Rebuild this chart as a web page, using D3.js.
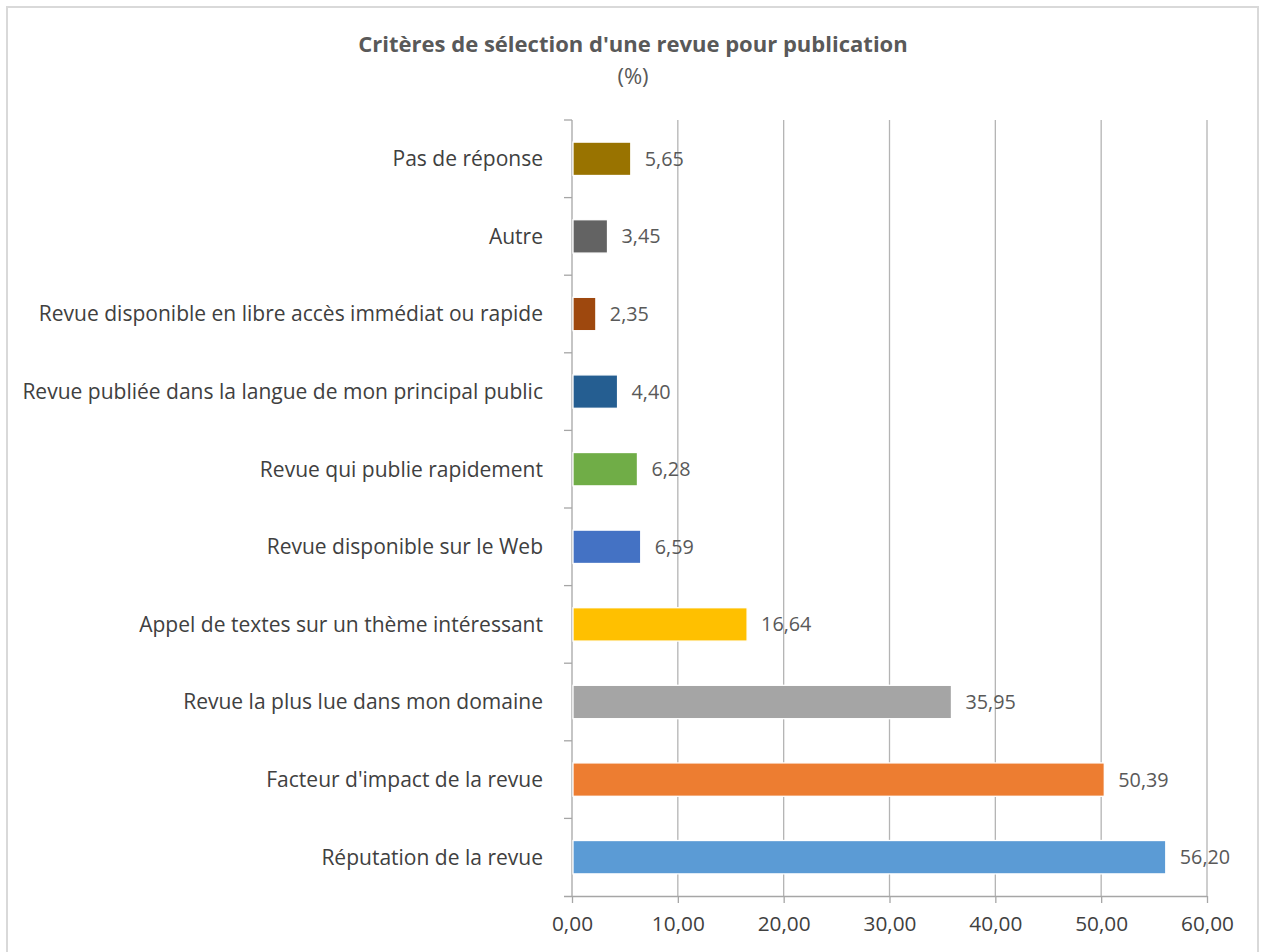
<!DOCTYPE html>
<html><head><meta charset="utf-8">
<script src="https://cdn.jsdelivr.net/npm/d3@7"></script>
<style>html,body{margin:0;padding:0;background:#fff;}svg{display:block;}</style>
</head><body>
<svg id="chart" width="1264" height="952"></svg>
<script>
const categories = [
  "Pas de réponse",
  "Autre",
  "Revue disponible en libre accès immédiat ou rapide",
  "Revue publiée dans la langue de mon principal public",
  "Revue qui publie rapidement",
  "Revue disponible sur le Web",
  "Appel de textes sur un thème intéressant",
  "Revue la plus lue dans mon domaine",
  "Facteur d'impact de la revue",
  "Réputation de la revue"
];
const values = [5.65, 3.45, 2.35, 4.40, 6.28, 6.59, 16.64, 35.95, 50.39, 56.20];
const colors = ["#997300", "#636363", "#9E480E", "#255E91", "#70AD47", "#4472C4", "#FFC000", "#A5A5A5", "#ED7D31", "#5B9BD5"];
const xTicks = [0, 10, 20, 30, 40, 50, 60];
const title = "Critères de sélection d'une revue pour publication";
const subtitle = "(%)";

const font = "'Open Sans', 'Noto Sans', 'DejaVu Sans', sans-serif";
const svg = d3.select("#chart");
const m = {left: 572, right: 1207, top: 120, bottom: 896};
const fmt = v => d3.format(".2f")(v).replace(".", ",");

// font size that gives a text a wanted width
function fitSize(text, width, weight) {
  const t = svg.append("text").attr("font-family", font).attr("font-size", 20)
    .attr("font-weight", weight || "normal").text(text);
  const w = t.node().getComputedTextLength();
  t.remove();
  return 20 * width / w;
}
const catSize = fitSize(categories[3], 521);
const titleSize = fitSize(title, 550, "bold");
const numSize = fitSize("10,00", 53);

// frame
svg.append("rect").attr("x", 7).attr("y", 7).attr("width", 1251).attr("height", 980)
  .attr("fill", "#fff").attr("stroke", "#d9d9d9").attr("stroke-width", 2);

const x = d3.scaleLinear().domain([0, 60]).range([m.left, m.right]);
const y = d3.scaleBand().domain(categories).range([m.top, m.bottom]).paddingInner(0.57).paddingOuter(0.285);
const yb = d3.scaleBand().domain(categories).range([m.top, m.bottom]);

// gridlines
svg.append("g").selectAll("line").data(xTicks.filter(t => t > 0)).join("line")
  .attr("x1", d => x(d)).attr("x2", d => x(d)).attr("y1", m.top).attr("y2", m.bottom)
  .attr("stroke", "#b4b4b4").attr("stroke-width", 1.3);

// x axis
const xAxis = svg.append("g").attr("transform", `translate(0,${m.bottom})`)
  .call(d3.axisBottom(x).tickValues(xTicks).tickFormat(fmt).tickSize(7).tickPadding(13).tickSizeOuter(0));
xAxis.select(".domain").attr("stroke", "#a6a6a6").attr("stroke-width", 1.3)
  .attr("d", `M${m.left - 8},0.5H${m.right}`);
xAxis.selectAll(".tick line").attr("stroke", "#a6a6a6").attr("stroke-width", 1.3);
xAxis.selectAll(".tick text").attr("fill", "#404040").attr("font-family", font).attr("font-size", numSize);

// y axis line and ticks at band boundaries
svg.append("line").attr("x1", m.left).attr("x2", m.left).attr("y1", m.top).attr("y2", m.bottom)
  .attr("stroke", "#a6a6a6").attr("stroke-width", 1.3);
svg.append("g").selectAll("line").data(categories).join("line")
  .attr("x1", m.left - 8).attr("x2", m.left).attr("y1", d => yb(d)).attr("y2", d => yb(d))
  .attr("stroke", "#a6a6a6").attr("stroke-width", 1.3);

// category labels
svg.append("g").selectAll("text").data(categories).join("text")
  .attr("x", 543).attr("y", d => yb(d) + yb.bandwidth() / 2).attr("dy", "0.35em")
  .attr("text-anchor", "end").attr("fill", "#404040").attr("font-family", font).attr("font-size", catSize)
  .text(d => d);

// bars
svg.append("g").selectAll("rect").data(values).join("rect")
  .attr("x", x(0) + 1).attr("y", (d, i) => y(categories[i]))
  .attr("width", d => Math.max(0, x(d) - x(0) - 2)).attr("height", y.bandwidth())
  .attr("fill", (d, i) => colors[i]).attr("stroke", "#fff").attr("stroke-width", 1.3);

// value labels
svg.append("g").selectAll("text").data(values).join("text")
  .attr("x", d => x(d) + 13).attr("y", (d, i) => yb(categories[i]) + yb.bandwidth() / 2).attr("dy", "0.35em")
  .attr("fill", "#595959").attr("font-family", font).attr("font-size", numSize * 0.95)
  .text(d => fmt(d));

// title
svg.append("text").attr("x", 633).attr("y", 52).attr("text-anchor", "middle")
  .attr("fill", "#595959").attr("font-family", font).attr("font-weight", "bold").attr("font-size", titleSize)
  .text(title);
svg.append("text").attr("x", 633).attr("y", 84).attr("text-anchor", "middle")
  .attr("fill", "#595959").attr("font-family", font).attr("font-size", titleSize)
  .text(subtitle);
</script>
</body></html>
